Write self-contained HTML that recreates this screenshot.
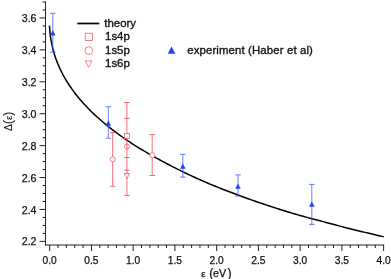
<!DOCTYPE html><html><head><meta charset="utf-8"><title>chart</title><style>html,body{margin:0;padding:0;background:#fff}svg{display:block}text{font-family:"Liberation Sans",Arial,sans-serif;fill:#111;stroke:#111;stroke-width:0.25px}.lg{stroke-width:0.35px}</style></head><body>
<svg width="391" height="279" viewBox="0 0 391 279">
<rect width="391" height="279" fill="#fff"/>
<path d="M45.5 1.49V245.50M39.50 241.39H45.50M42.50 233.41H45.50M42.50 225.43H45.50M42.50 217.45H45.50M39.50 209.47H45.50M42.50 201.49H45.50M42.50 193.51H45.50M42.50 185.53H45.50M39.50 177.55H45.50M42.50 169.57H45.50M42.50 161.59H45.50M42.50 153.61H45.50M39.50 145.63H45.50M42.50 137.65H45.50M42.50 129.67H45.50M42.50 121.69H45.50M39.50 113.71H45.50M42.50 105.73H45.50M42.50 97.75H45.50M42.50 89.77H45.50M39.50 81.79H45.50M42.50 73.81H45.50M42.50 65.83H45.50M42.50 57.85H45.50M39.50 49.87H45.50M42.50 41.89H45.50M42.50 33.91H45.50M42.50 25.93H45.50M39.50 17.95H45.50M42.50 9.97H45.50M42.50 1.99H45.50M45.00 245.0H384.12M49.70 245.0V251.00M58.05 245.0V248.00M66.40 245.0V248.00M74.74 245.0V248.00M83.09 245.0V248.00M91.44 245.0V251.00M99.79 245.0V248.00M108.14 245.0V248.00M116.48 245.0V248.00M124.83 245.0V248.00M133.18 245.0V251.00M141.53 245.0V248.00M149.88 245.0V248.00M158.22 245.0V248.00M166.57 245.0V248.00M174.92 245.0V251.00M183.27 245.0V248.00M191.62 245.0V248.00M199.96 245.0V248.00M208.31 245.0V248.00M216.66 245.0V251.00M225.01 245.0V248.00M233.36 245.0V248.00M241.70 245.0V248.00M250.05 245.0V248.00M258.40 245.0V251.00M266.75 245.0V248.00M275.10 245.0V248.00M283.44 245.0V248.00M291.79 245.0V248.00M300.14 245.0V251.00M308.49 245.0V248.00M316.84 245.0V248.00M325.18 245.0V248.00M333.53 245.0V248.00M341.88 245.0V251.00M350.23 245.0V248.00M358.58 245.0V248.00M366.92 245.0V248.00M375.27 245.0V248.00M383.62 245.0V251.00" stroke="#222" stroke-width="1" fill="none"/>
<text x="36.50" y="245.49" font-size="10.6" text-anchor="end">2.2</text>
<text x="36.50" y="213.57" font-size="10.6" text-anchor="end">2.4</text>
<text x="36.50" y="181.65" font-size="10.6" text-anchor="end">2.6</text>
<text x="36.50" y="149.73" font-size="10.6" text-anchor="end">2.8</text>
<text x="36.50" y="117.81" font-size="10.6" text-anchor="end">3.0</text>
<text x="36.50" y="85.89" font-size="10.6" text-anchor="end">3.2</text>
<text x="36.50" y="53.97" font-size="10.6" text-anchor="end">3.4</text>
<text x="36.50" y="22.05" font-size="10.6" text-anchor="end">3.6</text>
<text x="49.70" y="264.0" font-size="10.2" text-anchor="middle">0.0</text>
<text x="91.44" y="264.0" font-size="10.2" text-anchor="middle">0.5</text>
<text x="133.18" y="264.0" font-size="10.2" text-anchor="middle">1.0</text>
<text x="174.92" y="264.0" font-size="10.2" text-anchor="middle">1.5</text>
<text x="216.66" y="264.0" font-size="10.2" text-anchor="middle">2.0</text>
<text x="258.40" y="264.0" font-size="10.2" text-anchor="middle">2.5</text>
<text x="300.14" y="264.0" font-size="10.2" text-anchor="middle">3.0</text>
<text x="341.88" y="264.0" font-size="10.2" text-anchor="middle">3.5</text>
<text x="383.62" y="264.0" font-size="10.2" text-anchor="middle">4.0</text>
<text y="276.9"><tspan x="201.2" font-size="9.6">ε</tspan><tspan x="209.2" font-size="12.4">(</tspan><tspan x="213.1" font-size="10.8">eV</tspan><tspan x="227.4" font-size="12.4">)</tspan></text>
<text transform="translate(11.6,121.4) rotate(-90)" text-anchor="middle" style="stroke-width:0.1px"><tspan font-size="10.4">Δ</tspan><tspan font-size="12">(</tspan><tspan font-size="9.6">ε</tspan><tspan font-size="12">)</tspan></text>
<polyline points="49.45,25.61 49.95,32.11 50.45,36.32 50.95,39.63 51.45,42.43 51.95,44.90 52.45,47.12 52.95,49.15 53.45,51.04 53.95,52.80 54.45,54.46 54.95,56.03 55.45,57.52 55.95,58.95 56.45,60.32 56.95,61.64 57.45,62.91 57.95,64.14 58.45,65.32 58.95,66.48 59.45,67.60 59.95,68.68 60.45,69.74 60.95,70.78 61.45,71.79 61.95,72.77 62.45,73.74 62.95,74.68 63.45,75.60 63.95,76.51 64.45,77.40 64.95,78.27 65.45,79.13 65.95,79.97 66.45,80.80 66.95,81.61 67.45,82.41 67.95,83.20 68.45,83.98 68.95,84.74 69.45,85.50 69.95,86.24 70.00,86.31 72.00,89.18 74.00,91.91 76.00,94.52 78.00,97.02 80.00,99.41 82.00,101.72 84.00,103.95 86.00,106.11 88.00,108.19 90.00,110.22 92.00,112.19 94.00,114.10 96.00,115.96 98.00,117.78 100.00,119.55 102.00,121.28 104.00,122.98 106.00,124.63 108.00,126.25 110.00,127.84 112.00,129.40 114.00,130.92 116.00,132.42 118.00,133.89 120.00,135.33 122.00,136.75 124.00,138.15 126.00,139.52 128.00,140.87 130.00,142.20 132.00,143.51 134.00,144.79 136.00,146.06 138.00,147.31 140.00,148.55 142.00,149.76 144.00,150.96 146.00,152.14 148.00,153.31 150.00,154.46 152.00,155.60 154.00,156.72 156.00,157.83 158.00,158.93 160.00,160.01 162.00,161.08 164.00,162.14 166.00,163.20 168.00,164.25 170.00,165.28 172.00,166.31 174.00,167.34 176.00,168.35 178.00,169.35 180.00,170.35 182.00,171.34 184.00,172.31 186.00,173.28 188.00,174.24 190.00,175.19 192.00,176.12 194.00,177.05 196.00,177.97 198.00,178.88 200.00,179.77 202.00,180.66 204.00,181.53 206.00,182.39 208.00,183.24 210.00,184.08 212.00,184.91 214.00,185.73 216.00,186.55 218.00,187.35 220.00,188.15 222.00,188.95 224.00,189.73 226.00,190.52 228.00,191.29 230.00,192.06 232.00,192.82 234.00,193.57 236.00,194.32 238.00,195.06 240.00,195.80 242.00,196.53 244.00,197.26 246.00,197.98 248.00,198.69 250.00,199.40 252.00,200.10 254.00,200.80 256.00,201.49 258.00,202.18 260.00,202.86 262.00,203.54 264.00,204.21 266.00,204.88 268.00,205.54 270.00,206.20 272.00,206.85 274.00,207.50 276.00,208.15 278.00,208.78 280.00,209.42 282.00,210.05 284.00,210.68 286.00,211.30 288.00,211.91 290.00,212.53 292.00,213.13 294.00,213.73 296.00,214.31 298.00,214.89 300.00,215.45 302.00,216.01 304.00,216.57 306.00,217.11 308.00,217.65 310.00,218.19 312.00,218.72 314.00,219.25 316.00,219.78 318.00,220.30 320.00,220.83 322.00,221.36 324.00,221.88 326.00,222.41 328.00,222.94 330.00,223.48 332.00,224.01 334.00,224.54 336.00,225.07 338.00,225.60 340.00,226.12 342.00,226.64 344.00,227.15 346.00,227.66 348.00,228.17 350.00,228.68 352.00,229.18 354.00,229.68 356.00,230.18 358.00,230.67 360.00,231.16 362.00,231.65 364.00,232.14 366.00,232.62 368.00,233.10 370.00,233.58 372.00,234.05 374.00,234.52 376.00,234.99 378.00,235.46 380.00,235.92 382.00,236.38 383.70,236.77" fill="none" stroke="#000" stroke-width="1.5" stroke-linejoin="round"/>
<path d="M112.7 132.5V186.3M109.9 132.5H115.5M109.9 186.3H115.5" stroke="#ee4a58" stroke-width="0.8" fill="none"/>
<circle cx="112.7" cy="159.3" r="2.6" fill="#fff" stroke="#ee4a58" stroke-width="0.7"/>
<circle cx="126.9" cy="146.6" r="2.6" fill="#fff" stroke="#ee4a58" stroke-width="0.7"/>
<path d="M126.9 102.5V195.5M124.10000000000001 102.5H129.70000000000002M124.10000000000001 118.4H129.70000000000002M124.10000000000001 157.5H129.70000000000002M124.10000000000001 170.2H129.70000000000002M124.10000000000001 195.5H129.70000000000002" stroke="#ee4a58" stroke-width="0.8" fill="none"/>
<path d="M152.2 134.6V175.5M149.39999999999998 134.6H155.0M149.39999999999998 175.5H155.0" stroke="#ee4a58" stroke-width="0.8" fill="none"/>
<rect x="124.4" y="133.4" width="5.0" height="5.0" fill="#fff" stroke="#ee4a58" stroke-width="0.7"/>
<path d="M126.9 178.50L129.60 173.50H124.20Z" fill="#fff" stroke="#ee4a58" stroke-width="0.7"/>
<circle cx="152.2" cy="155.2" r="2.6" fill="#fff" stroke="#ee4a58" stroke-width="0.7"/>
<path d="M52.8 13.3V52.3M50.0 13.3H55.599999999999994M50.0 52.3H55.599999999999994" stroke="#3a5af2" stroke-width="0.75" fill="none"/>
<path d="M52.8 30.30L55.60 35.50H50.00Z" fill="#2347ee"/>
<path d="M108.3 106.7V138.2M105.5 106.7H111.1M105.5 138.2H111.1" stroke="#3a5af2" stroke-width="0.75" fill="none"/>
<path d="M108.3 120.60L111.10 125.80H105.50Z" fill="#2347ee"/>
<path d="M182.8 154.4V177.1M180.0 154.4H185.60000000000002M180.0 177.1H185.60000000000002" stroke="#3a5af2" stroke-width="0.75" fill="none"/>
<path d="M182.8 163.60L185.60 168.80H180.00Z" fill="#2347ee"/>
<path d="M238.0 174.9V196.0M235.2 174.9H240.8M235.2 196.0H240.8" stroke="#3a5af2" stroke-width="0.75" fill="none"/>
<path d="M238.0 183.60L240.80 188.80H235.20Z" fill="#2347ee"/>
<path d="M311.8 184.4V224.4M309.0 184.4H314.6M309.0 224.4H314.6" stroke="#3a5af2" stroke-width="0.75" fill="none"/>
<path d="M311.8 201.60L314.60 206.80H309.00Z" fill="#2347ee"/>
<path d="M77.3 23.5H99.3" stroke="#000" stroke-width="1.7"/>
<text x="104.3" y="27" class="lg" font-size="11.4">theory</text>
<text x="105.1" y="40.3" class="lg" font-size="11.4">1s4p</text>
<text x="105.1" y="53.7" class="lg" font-size="11.4">1s5p</text>
<text x="105.1" y="67" class="lg" font-size="11.4">1s6p</text>
<rect x="85.2" y="33.199999999999996" width="7.2" height="7.2" fill="#fff" stroke="#ee4a58" stroke-width="0.7"/>
<circle cx="88.8" cy="50.6" r="3.9" fill="#fff" stroke="#ee4a58" stroke-width="0.7"/>
<path d="M88.6 67.30L92.00 60.90H85.20Z" fill="#fff" stroke="#ee4a58" stroke-width="0.7"/>
<path d="M171.6 46.60L175.45 53.80H167.75Z" fill="#2347ee"/>
<text x="187.2" y="53.9" class="lg" font-size="11.4" letter-spacing="0.125">experiment (Haber et al)</text>
</svg></body></html>
